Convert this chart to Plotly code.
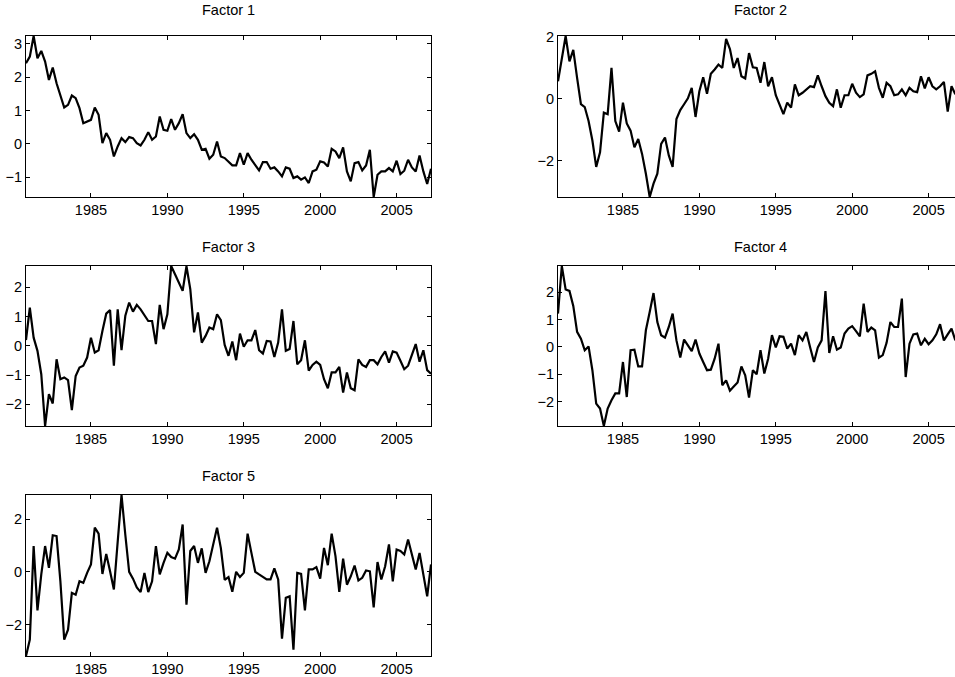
import plotly.graph_objects as go

# ---- data (quarterly, starting 1980Q4) ----
start_year = 1980.75
step = 0.25

factor1 = [2.42, 2.62, 3.24, 2.57, 2.79, 2.47, 1.92, 2.29, 1.82, 1.47,
           1.09, 1.17, 1.45, 1.37, 1.07, 0.62, 0.67, 0.72, 1.09, 0.87,
           0.02, 0.32, 0.12, -0.38, -0.08, 0.17, 0.05, 0.2, 0.17, 0.02,
           -0.05, 0.12, 0.35, 0.12, 0.22, 0.82, 0.42, 0.39, 0.74, 0.42,
           0.62, 0.89, 0.32, 0.17, 0.29, 0.12, -0.18, -0.15, -0.45, -0.33,
           0.07, -0.38, -0.43, -0.53, -0.65, -0.65, -0.28, -0.63, -0.28, -0.48,
           -0.63, -0.8, -0.55, -0.55, -0.75, -0.71, -0.83, -0.98, -0.71, -0.75,
           -1.03, -0.98, -1.08, -1.01, -1.18, -0.83, -0.78, -0.53, -0.56, -0.68,
           -0.15, -0.23, -0.43, -0.11, -0.83, -1.13, -0.58, -0.55, -0.8, -0.65,
           -0.18, -1.6, -0.93, -0.83, -0.83, -0.73, -0.83, -0.51, -0.91, -0.81,
           -0.48, -0.71, -0.83, -0.35, -0.83, -1.21, -0.75]

factor2 = [0.56, 1.3, 2.02, 1.2, 1.57, 0.67, -0.18, -0.27, -0.72, -1.35,
           -2.2, -1.73, -0.45, -0.5, 0.99, -0.72, -1.06, -0.13, -0.8, -1.03,
           -1.57, -1.3, -1.78, -2.42, -3.17, -2.74, -2.42, -1.46, -1.25, -1.83,
           -2.2, -0.66, -0.37, -0.18, 0.01, 0.35, -0.59, 0.24, 0.69, 0.16,
           0.8, 0.94, 1.1, 0.99, 1.93, 1.6, 0.99, 1.31, 0.72, 0.65,
           1.47, 1.01, 0.99, 0.51, 1.18, 0.4, 0.69, 0.11, -0.18, -0.5,
           -0.13, -0.29, 0.46, 0.11, 0.19, 0.3, 0.4, 0.37, 0.75, 0.4,
           0.08, -0.13, -0.24, 0.3, -0.29, 0.11, 0.11, 0.48, 0.19, 0.05,
           0.14, 0.75, 0.8, 0.88, 0.35, 0.03, 0.51, 0.4, 0.11, 0.14,
           0.3, 0.11, 0.35, 0.24, 0.21, 0.72, 0.33, 0.69, 0.4, 0.3,
           0.4, 0.54, -0.42, 0.4, 0.14]

factor3 = [0.2, 1.31, 0.28, -0.17, -0.97, -2.74, -1.65, -1.97, -0.46, -1.14,
           -1.08, -1.17, -2.2, -1.03, -0.74, -0.68, -0.4, 0.28, -0.23, -0.15,
           0.51, 1.1, 1.22, -0.68, 1.25, -0.15, 1.03, 1.48, 1.17, 1.4,
           1.25, 1.03, 0.85, 0.85, 0.06, 1.4, 0.57, 1.08, 2.73, 2.45,
           2.15, 1.88, 2.72, 1.94, 0.46, 1.14, 0.11, 0.34, 0.63, 0.57,
           1.08, 0.88, 0.03, -0.34, 0.15, -0.49, 0.42, -0.03, 0.19, 0.19,
           0.54, -0.15, -0.26, 0.17, 0.15, -0.38, 0.11, 1.25, -0.17, -0.11,
           0.85, -0.63, -0.49, 0.19, -0.85, -0.65, -0.54, -0.65, -1.14, -1.45,
           -0.91, -0.91, -0.72, -1.6, -0.91, -1.45, -1.52, -0.46, -0.65, -0.72,
           -0.49, -0.49, -0.63, -0.38, -0.19, -0.57, -0.19, -0.23, -0.51, -0.8,
           -0.68, -0.31, 0.06, -0.54, -0.15, -0.83, -0.95]

factor4 = [1.22, 2.96, 2.1, 2.05, 1.5, 0.55, 0.3, -0.12, 0.02, -0.85,
           -2.07, -2.25, -2.89, -2.25, -1.95, -1.7, -1.7, -0.55, -1.83, -0.12,
           -0.1, -0.71, -0.71, 0.61, 1.28, 1.97, 0.91, 0.43, 0.34, 0.73,
           1.22, 0.24, -0.39, 0.27, 0.06, -0.15, 0.27, -0.24, -0.55, -0.85,
           -0.83, -0.43, 0.12, -1.4, -1.22, -1.6, -1.45, -1.3, -0.71, -1.04,
           -1.85, -0.85, -1.0, -0.12, -0.97, -0.43, 0.43, -0.02, 0.39, 0.37,
           -0.06, 0.12, -0.3, 0.43, 0.24, 0.55, -0.02, -0.55, -0.02, 0.24,
           2.04, -0.22, 0.39, -0.1, -0.02, 0.49, 0.67, 0.76, 0.58, 0.39,
           1.58, 0.55, 0.71, 0.61, -0.39, -0.3, 0.15, 0.91, 0.73, 0.73,
           1.77, -1.1, 0.12, 0.46, 0.49, 0.06, 0.3, 0.1, 0.24, 0.46,
           0.83, 0.24, 0.46, 0.67, 0.24]

factor5 = [-3.2, -2.58, 0.98, -1.47, -0.1, 0.98, 0.15, 1.39, 1.36, -0.36,
           -2.58, -2.2, -0.8, -0.87, -0.36, -0.42, -0.04, 0.28, 1.68, 1.45,
           -0.08, 0.68, 0.02, -0.67, 1.15, 2.92, 1.4, 0.0, -0.26, -0.59,
           -0.77, -0.04, -0.77, -0.36, 0.98, -0.1, 0.34, 0.72, 0.56, 0.5,
           0.85, 1.8, -1.25, 0.79, 0.98, 0.34, 0.89, -0.04, 0.4, 1.06,
           1.68, 0.9, -0.31, -0.2, -0.76, 0.0, -0.2, -0.04, 1.45, 0.72,
           0.0, -0.1, -0.2, -0.29, -0.29, 0.13, -0.29, -2.54, -0.99, -0.93,
           -2.96, -0.04, -0.08, -1.47, 0.09, 0.09, 0.18, -0.26, 0.91, 0.25,
           1.45, 0.6, -0.76, 0.5, -0.49, -0.17, 0.24, -0.33, -0.23, 0.05,
           0.02, -1.35, 0.37, -0.29, 0.21, 1.04, -0.36, 0.85, 0.79, 0.66,
           1.23, 0.6, 0.09, 0.72, -0.17, -0.93, 0.28]

titles = ["Factor 1", "Factor 2", "Factor 3", "Factor 4", "Factor 5"]
series = [factor1, factor2, factor3, factor4, factor5]
yticks = [[-1, 0, 1, 2, 3], [-2, 0, 2], [-2, -1, 0, 1, 2], [-2, -1, 0, 1, 2], [-2, 0, 2]]
xticks = [1985, 1990, 1995, 2000, 2005]
last_quarter = 2007.25          # full sample end (left column)
right_visible_end = 2006.727    # right column is cut off by the figure edge

# ---- layout geometry (pixels) ----
W, H = 955, 677
col_px = [(26, 431), (558, 955)]
row_px = [(36, 197), (266, 426), (495, 656)]
title_y_px = [10, 247, 476]
panel_pos = [(0, 0), (0, 1), (1, 0), (1, 1), (2, 0)]

FONT = "Liberation Sans, Arial, Helvetica, sans-serif"
FS = 14.5
fig = go.Figure()
layout = dict(width=W, height=H,
              margin=dict(l=0, r=0, t=0, b=0, pad=0, autoexpand=False),
              paper_bgcolor="white", plot_bgcolor="white", showlegend=False,
              font=dict(family=FONT, size=FS, color="black"))
annotations = []

for i, (vals, title) in enumerate(zip(series, titles)):
    r, c = panel_pos[i]
    x = [start_year + step * k for k in range(len(vals))]
    n = "" if i == 0 else str(i + 1)
    fig.add_trace(go.Scatter(x=x, y=vals, mode="lines",
                             line=dict(color="black", width=2.2),
                             xaxis="x" + n, yaxis="y" + n, hoverinfo="skip"))
    x0, x1 = col_px[c]
    y0, y1 = row_px[r]
    xr_end = last_quarter if c == 0 else right_visible_end
    layout["xaxis" + n] = dict(
        domain=[x0 / W, x1 / W], anchor="y" + n, range=[start_year, xr_end],
        tickvals=xticks, ticks="inside", ticklen=4, tickcolor="black",
        showline=True, linecolor="black", linewidth=1, mirror="ticks",
        showgrid=False, zeroline=False, automargin=False,
        tickfont=dict(size=FS, color="black"))
    layout["yaxis" + n] = dict(
        domain=[1 - y1 / H, 1 - y0 / H], anchor="x" + n,
        range=[min(vals), max(vals)],
        tickvals=yticks[i], ticks="inside", ticklen=4, tickcolor="black",
        showline=True, linecolor="black", linewidth=1,
        mirror="ticks" if c == 0 else False,
        showgrid=False, zeroline=False, automargin=False,
        tickfont=dict(size=FS, color="black"))
    full_right = x0 + 405
    annotations.append(dict(text=title, x=((x0 + full_right) / 2) / W,
                            y=1 - title_y_px[r] / H, xref="paper", yref="paper",
                            xanchor="center", yanchor="middle", showarrow=False,
                            font=dict(size=FS, color="black", family=FONT)))

layout["annotations"] = annotations
fig.update_layout(**layout)
fig.write_html("out.html",
               config={"displayModeBar": False, "staticPlot": True},
               post_script="document.body.style.margin='0px';"
                           "document.body.style.overflow='hidden';")
